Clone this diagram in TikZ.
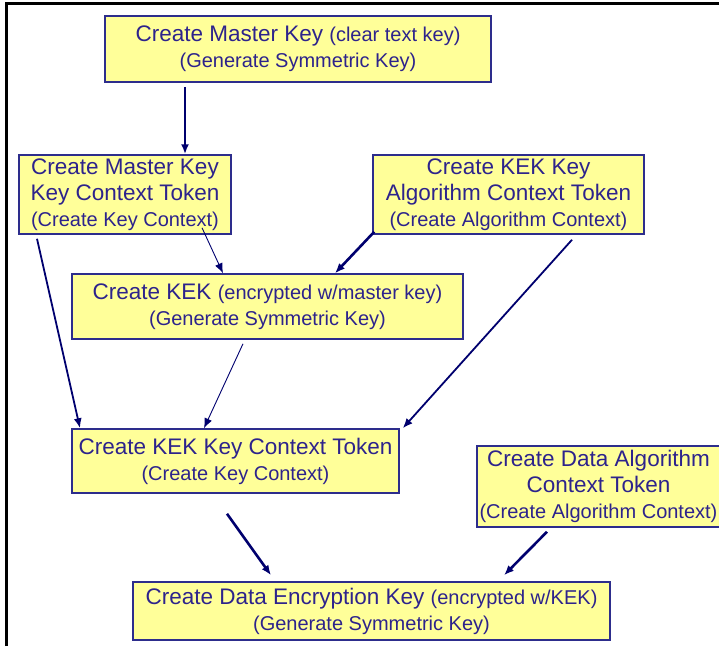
\documentclass[tikz,border=0pt]{standalone}
\usepackage{fontspec}
\setmainfont{Liberation Sans}
\usepackage{tikz}
\usetikzlibrary{arrows.meta}
\definecolor{boxfill}{RGB}{255,255,153}
\definecolor{boxline}{RGB}{45,45,140}
\definecolor{inkblue}{RGB}{45,35,140}
\definecolor{arrowblue}{RGB}{0,0,110}
\newcommand{\smalltxt}[1]{{\fontsize{20}{26}\selectfont #1}}
\tikzset{
  keybox/.style={rectangle, draw=boxline, fill=boxfill, line width=1.5pt, inner sep=0pt,
                 align=center, text=inkblue, font=\fontsize{22.5}{26}\selectfont},
  fwd/.style={-{Latex[length=10pt,width=8pt]}, line width=2.6pt, draw=arrowblue},
  fwdmid/.style={fwd, line width=1.8pt},
  fwdthin/.style={fwd, line width=0.9pt},
}

\begin{document}
\begin{tikzpicture}[x=1pt, y=-1pt]
  \useasboundingbox (0,0) rectangle (719,646);
  \draw[line width=3pt] (6,646) -- (6,3) -- (719,3);

  \node[keybox, minimum width=386pt, minimum height=66pt] (mk) at (298,49)
    {Create Master Key \smalltxt{(clear text key)}\\ \smalltxt{(Generate Symmetric Key)}};
  \node[keybox, minimum width=212pt, minimum height=79pt] (mkc) at (125,194.5)
    {Create Master Key\\ Key Context Token\\ \smalltxt{(Create Key Context)}};
  \node[keybox, minimum width=271pt, minimum height=79pt] (alg) at (508.5,194.5)
    {Create KEK Key\\ Algorithm Context Token\\ \smalltxt{(Create Algorithm Context)}};
  \node[keybox, minimum width=391pt, minimum height=65pt] (kek) at (267.5,306.5)
    {Create KEK \smalltxt{(encrypted w/master key)}\\ \smalltxt{(Generate Symmetric Key)}};
  \node[keybox, minimum width=327pt, minimum height=64pt] (kkc) at (235.5,461)
    {Create KEK Key Context Token\\ \smalltxt{(Create Key Context)}};
  \node[keybox, minimum width=243pt, minimum height=81pt] (dat) at (598.5,486.5)
    {Create Data Algorithm\\ Context Token\\ \smalltxt{(Create Algorithm Context)}};
  \node[keybox, minimum width=477pt, minimum height=58pt] (dek) at (371.5,611)
    {Create Data Encryption Key \smalltxt{(encrypted w/KEK)}\\ \smalltxt{(Generate Symmetric Key)}};

  \draw[fwd] ([xshift=-113pt,yshift=-4pt]mk.south) -- ([xshift=60pt]mkc.north);
  \draw[fwdmid] ([xshift=-88pt,yshift=-4pt]mkc.south) -- ([xshift=-155.5pt]kkc.north);
  \draw[fwdthin] ([xshift=77pt,yshift=7pt]mkc.south) -- ([xshift=-44.5pt]kek.north);
  \draw[fwd] ([xshift=2pt,yshift=3pt]alg.south west) -- ([xshift=67.5pt]kek.north);
  \draw[fwdmid] ([xshift=63.5pt,yshift=-5pt]alg.south) -- ([xshift=3pt]kkc.north east);
  \draw[fwdthin] ([xshift=-24.5pt,yshift=-4pt]kek.south) -- ([xshift=-31.5pt]kkc.north);
  \draw[fwd] ([xshift=-8.5pt,yshift=-20pt]kkc.south) -- ([xshift=-100.5pt,yshift=6pt]dek.north);
  \draw[fwd] ([xshift=-51.5pt,yshift=-4pt]dat.south) -- ([xshift=132.5pt,yshift=6pt]dek.north);
\end{tikzpicture}
\end{document}
